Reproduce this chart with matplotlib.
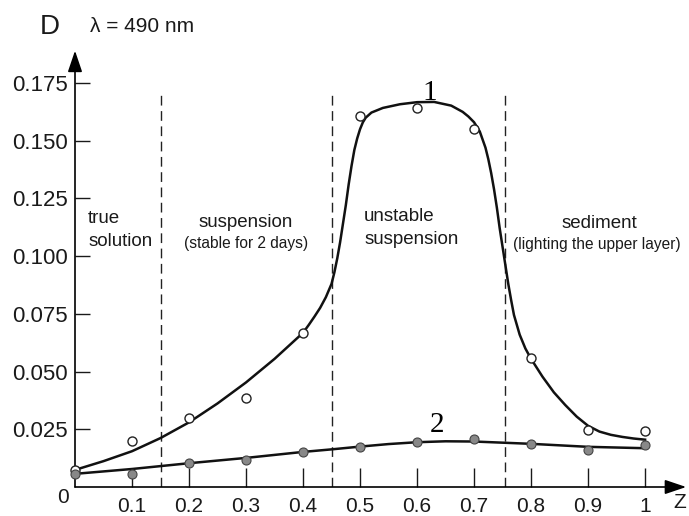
import numpy as np
import matplotlib
matplotlib.use("Agg")
import matplotlib.pyplot as plt

plt.rcParams['font.family'] = ['Liberation Sans', 'DejaVu Sans']

# measured points
z_pts = [0.0, 0.1, 0.2, 0.3, 0.4, 0.5, 0.6, 0.7, 0.8, 0.9, 1.0]
d1_pts = [0.0074, 0.020, 0.030, 0.0384, 0.0668, 0.1607, 0.1640, 0.1550, 0.0560, 0.0246, 0.0242]
d2_pts = [0.0057, 0.0057, 0.0105, 0.0118, 0.0153, 0.0175, 0.0196, 0.0210, 0.0188, 0.0159, 0.0180]

# fitted curves
z_fit1 = [0.0, 0.05, 0.1, 0.15, 0.2, 0.25, 0.3, 0.35, 0.4, 0.41, 0.42, 0.43, 0.44, 0.45,
          0.455, 0.46, 0.465, 0.47, 0.475, 0.48, 0.485, 0.49, 0.495, 0.5, 0.505, 0.51,
          0.52, 0.54, 0.57, 0.6, 0.63, 0.66, 0.68, 0.69, 0.7, 0.71, 0.72, 0.725, 0.73,
          0.735, 0.74, 0.745, 0.75, 0.755, 0.76, 0.765, 0.77, 0.78, 0.79, 0.8, 0.82,
          0.84, 0.86, 0.88, 0.9, 0.92, 0.94, 0.96, 0.98, 1.0]
d_fit1 = [0.0074, 0.0112, 0.0155, 0.0212, 0.0280, 0.0362, 0.0453, 0.0555, 0.0668, 0.0702,
          0.0738, 0.0776, 0.0822, 0.0880, 0.0930, 0.0990, 0.1060, 0.1140, 0.1220, 0.1310,
          0.1390, 0.1460, 0.1510, 0.1550, 0.1580, 0.1600, 0.1622, 0.1642, 0.1658, 0.1667,
          0.1668, 0.1652, 0.1625, 0.1605, 0.1580, 0.1540, 0.1470, 0.1420, 0.1360, 0.1290,
          0.1210, 0.1120, 0.1040, 0.0960, 0.0880, 0.0810, 0.0745, 0.0660, 0.0600, 0.0555,
          0.0478, 0.0410, 0.0355, 0.0305, 0.0265, 0.0240, 0.0226, 0.0217, 0.0210, 0.0205]
z_fit2 = [0.0, 0.1, 0.2, 0.3, 0.4, 0.45, 0.5, 0.55, 0.6, 0.65, 0.7, 0.75, 0.8, 0.9, 1.0]
d_fit2 = [0.0057, 0.0078, 0.0103, 0.0126, 0.0152, 0.0163, 0.0175, 0.0186, 0.0194, 0.0198,
          0.0197, 0.0192, 0.0187, 0.0174, 0.0168]

boundaries = [0.15, 0.45, 0.755]
x_ticks = [0.1, 0.2, 0.3, 0.4, 0.5, 0.6, 0.7, 0.8, 0.9, 1.0]
x_labels = ['0.1', '0.2', '0.3', '0.4', '0.5', '0.6', '0.7', '0.8', '0.9', '1']
y_ticks = [0.025, 0.050, 0.075, 0.100, 0.125, 0.150, 0.175]
y_labels = ['0.025', '0.050', '0.075', '0.100', '0.125', '0.150', '0.175']

fig = plt.figure(figsize=(6.89, 5.16), dpi=100)
ax = fig.add_axes([75 / 689, 29 / 516, 610 / 689, 434 / 516])
ax.set_xlim(0, 1.07)
ax.set_ylim(0, 0.188)
for s in ax.spines.values():
    s.set_visible(False)

# axes drawn as arrows
arr = dict(arrowstyle='-|>,head_length=0.65,head_width=0.22', lw=1.2, color='black',
           shrinkA=0, shrinkB=0, mutation_scale=20)
ax.annotate('', xy=(0, 0.189), xytext=(0, 0), xycoords='data', arrowprops=arr, annotation_clip=False)
ax.annotate('', xy=(1.072, 0), xytext=(0, 0), xycoords='data', arrowprops=arr, annotation_clip=False)

ax.set_xticks(x_ticks)
ax.set_xticklabels(x_labels)
ax.set_yticks(y_ticks)
ax.set_yticklabels(y_labels)
ax.tick_params(axis='x', direction='in', length=14, width=1.0, pad=7, labelsize=15, colors='#1a1a1a')
ax.tick_params(axis='y', direction='in', length=11, width=1.0, pad=5, labelsize=16, colors='#1a1a1a')

for b in boundaries:
    ax.plot([b, b], [0, 0.172], color='#222222', lw=1.0, dashes=(7, 4))

ax.plot(z_fit1, d_fit1, color='#111111', lw=1.8, zorder=3, solid_joinstyle='round')
ax.plot(z_fit2, d_fit2, color='#111111', lw=1.8, zorder=3, solid_joinstyle='round')
ax.plot(z_pts, d1_pts, 'o', ms=6.5, mfc='white', mec='#222222', mew=1.0, zorder=4, clip_on=False)
ax.plot(z_pts, d2_pts, 'o', ms=6.5, mfc='#888888', mec='#444444', mew=0.8, zorder=4, clip_on=False)

ax.text(0.623, 0.1705, '1', family='Liberation Serif', fontsize=21, ha='center', va='center')
ax.text(0.635, 0.0268, '2', family='Liberation Serif', fontsize=21, ha='center', va='center')

ax.text(-0.021, -0.0045, '0', fontsize=15, ha='center', va='center', clip_on=False, color='#1a1a1a')
fig.text(686 / 689, 1 - 502 / 516, 'Z', fontsize=15, ha='right', va='center', color='#1a1a1a')

fig.text(50 / 689, 1 - 27 / 516, 'D', fontsize=20, ha='center', va='center', color='#1a1a1a')
fig.text(90 / 689, 1 - 27 / 516, 'λ = 490 nm', fontsize=15, ha='left', va='center', color='#1a1a1a')

ax.text(0.023, 0.1165, 'true', fontsize=13.5, ha='left', va='center', color='#1a1a1a')
ax.text(0.023, 0.1065, 'solution', fontsize=13.5, ha='left', va='center', color='#1a1a1a')
ax.text(0.300, 0.1145, 'suspension', fontsize=13.5, ha='center', va='center', color='#1a1a1a')
ax.text(0.300, 0.1055, '(stable for 2 days)', fontsize=11.2, ha='center', va='center', color='#1a1a1a')
ax.text(0.507, 0.1170, 'unstable', fontsize=13.5, ha='left', va='center', color='#1a1a1a')
ax.text(0.507, 0.1070, 'suspension', fontsize=13.5, ha='left', va='center', color='#1a1a1a')
ax.text(0.920, 0.1143, 'sediment', fontsize=13.5, ha='center', va='center', color='#1a1a1a')
ax.text(0.915, 0.1050, '(lighting the upper layer)', fontsize=11.2, ha='center', va='center', color='#1a1a1a')

fig.savefig('out.png', dpi=100)
